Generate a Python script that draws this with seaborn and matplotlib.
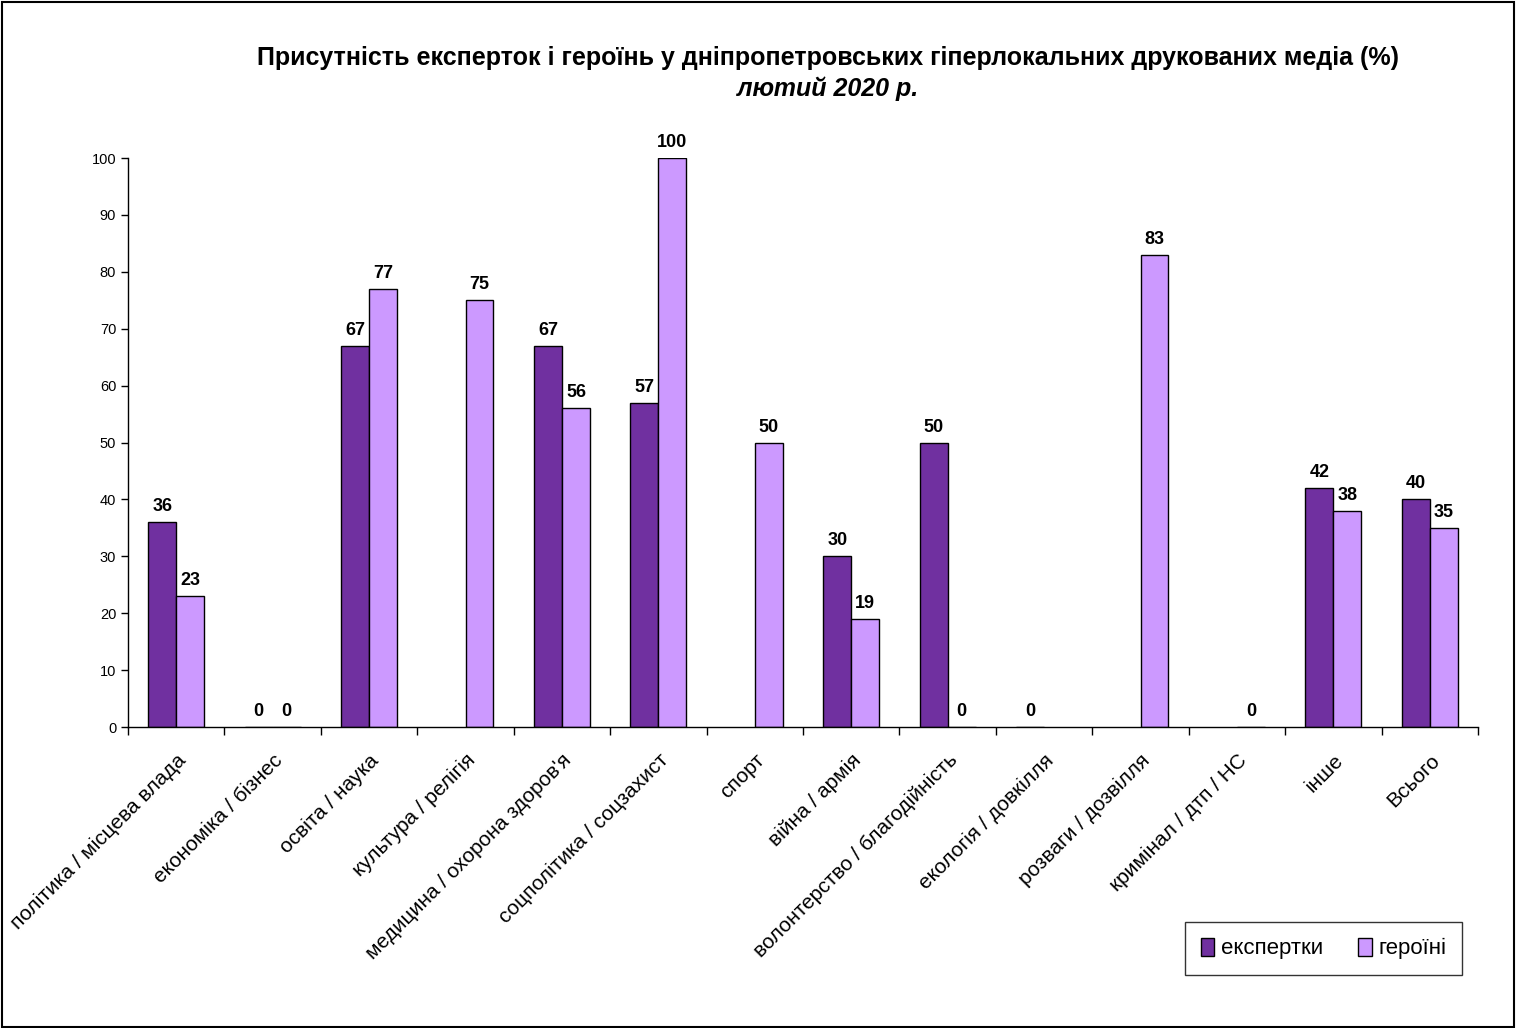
import pandas as pd
import numpy as np
import seaborn as sns
import matplotlib.pyplot as plt
from matplotlib.patches import Rectangle

categories = ['політика / місцева влада', 'економіка / бізнес', 'освіта / наука', 'культура / релігія',
              "медицина / охорона здоров'я", 'соцполітика / соцзахист', 'спорт', 'війна / армія',
              'волонтерство / благодійність', 'екологія / довкілля', 'розваги / дозвілля',
              'кримінал / дтп / НС', 'інше', 'Всього']
experts = [36, 0, 67, np.nan, 67, 57, np.nan, 30, 50, 0, np.nan, np.nan, 42, 40]
heroines = [23, 0, 77, 75, 56, 100, 50, 19, 0, np.nan, 83, 0, 38, 35]
series = ['експертки', 'героїні']
colors = ['#7030A0', '#CC99FF']

df = pd.DataFrame({'cat': categories * 2,
                   'val': experts + heroines,
                   'who': [series[0]] * len(categories) + [series[1]] * len(categories)})

sns.set_style('white')
plt.rcParams['font.family'] = ['Liberation Sans', 'DejaVu Sans']
plt.rcParams['text.color'] = 'black'
plt.rcParams['xtick.color'] = 'black'
plt.rcParams['ytick.color'] = 'black'

fig = plt.figure(figsize=(15.17, 10.28), dpi=100)
ax = fig.add_axes([0.0844, 0.2928, 0.8899, 0.5535])
sns.barplot(data=df, x='cat', y='val', hue='who', hue_order=series, order=categories,
            palette=colors, width=0.58, edgecolor='black', linewidth=1, saturation=1, ax=ax)

for c in ax.containers:
    ax.bar_label(c, fmt='%.0f', padding=5, fontsize=13, fontweight='bold', color='black')

ax.set_ylim(0, 100)
ax.set_xlim(-0.5, len(categories) - 0.5)
ax.set_yticks(range(0, 101, 10))
ax.tick_params(axis='y', labelsize=10.5, length=5, width=1, direction='out', left=True)
ax.set_xticks(np.arange(-0.5, len(categories), 1), minor=True)
ax.set_xticks(range(len(categories)))
ax.set_xticklabels(categories, rotation=45, ha='right', rotation_mode='anchor', fontsize=15)
ax.tick_params(axis='x', which='major', length=0, pad=17)
ax.tick_params(axis='x', which='minor', length=6, width=1, direction='out', bottom=True)
for s in ['top', 'right']:
    ax.spines[s].set_visible(False)
for s in ['left', 'bottom']:
    ax.spines[s].set_color('black')
    ax.spines[s].set_linewidth(1)
ax.set_xlabel('')
ax.set_ylabel('')

ax.legend(loc='lower right', bbox_to_anchor=(1462 / 1517, 1 - 975 / 1028), bbox_transform=fig.transFigure,
          ncol=2, fontsize=16, frameon=True, fancybox=False, edgecolor='black', handlelength=0.6,
          handleheight=0.9, handletextpad=0.3, columnspacing=1.6, borderpad=0.7, borderaxespad=0)
ax.get_legend().get_frame().set_linewidth(1)

fig.text(828 / 1517, 1 - 58 / 1028, 'Присутність експерток і героїнь у дніпропетровських гіперлокальних друкованих медіа (%)',
         ha='center', va='center', fontsize=18, fontweight='bold')
fig.text(828 / 1517, 1 - 89 / 1028, 'лютий 2020 р.', ha='center', va='center', fontsize=18,
         fontweight='bold', fontstyle='italic')

fig.patches.append(Rectangle((0.001, 0.001), 0.997, 0.997, transform=fig.transFigure,
                             fill=False, edgecolor='black', linewidth=1.5))

plt.savefig('out.png', dpi=100)
